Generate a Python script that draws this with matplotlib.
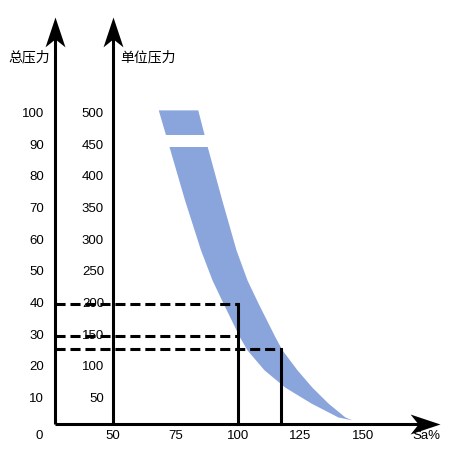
import matplotlib
matplotlib.use('Agg')
import matplotlib.pyplot as plt
import numpy as np
from matplotlib.path import Path

plt.rcParams['font.family'] = ['Liberation Sans', 'Noto Sans CJK SC']

# left scale (total pressure) and the matching unit-pressure scale
total_ticks = [10, 20, 30, 40, 50, 60, 70, 80, 90, 100]
unit_ticks = [50, 100, 150, 200, 250, 300, 350, 400, 450, 500]
sa_ticks = [50, 75, 100, 125, 150]

# band: total pressure vs left / right edge of Sa%
band_t = [101.3, 89.7, 72.9, 57.1, 47.6, 40.3, 29.6, 25.5, 19.2, 13.7, 8.7, 4.3, 3.4]
band_left = [68.1, 72.4, 78.6, 85.0, 89.6, 94.0, 100.6, 103.6, 110.4, 118.8, 129.2, 140.0, 145.6]
band_right = [83.9, 87.7, 93.5, 99.2, 103.6, 108.0, 114.8, 117.6, 123.6, 129.6, 136.0, 142.8, 145.6]
gap_t = [89.7, 93.4]

# working points: (Sa%, total pressure)
dashed_t = [40, 30, 25.8]
dashed_sa = [100, 100, 117.2]
solid_sa = [100, 117.2]
solid_t = [40, 25.8]

# layout
x_left = 26.8      # total pressure axis
x_unit = 50        # unit pressure axis
y_base = 2.1       # Sa% axis
y_tip = 130.6
x_tip = 180.8
band_color = '#8aa5dc'
lw = 2.2

fig = plt.figure(figsize=(4.68, 4.74), dpi=100)
ax = fig.add_axes([0, 0, 1, 1])
ax.set_xlim(4.8, 192)
ax.set_ylim(-13.7, 136)
ax.axis('off')

# band
ax.fill_betweenx(band_t, band_left, band_right, color=band_color, lw=0, zorder=1)
ax.fill_betweenx(gap_t, 60, 95, color='white', lw=0, zorder=1.5)

# arrow heads with a notched back
up_head = Path([(0, 0), (0.5, -1.5), (0, -1.1), (-0.5, -1.5), (0, 0)],
               [Path.MOVETO, Path.LINETO, Path.LINETO, Path.LINETO, Path.CLOSEPOLY])
right_head = Path([(0, 0), (-1.5, 0.5), (-1.1, 0), (-1.5, -0.5), (0, 0)],
                  [Path.MOVETO, Path.LINETO, Path.LINETO, Path.LINETO, Path.CLOSEPOLY])

for x in (x_left, x_unit):
    ax.plot([x, x], [y_base, y_tip - 5], color='black', lw=lw, zorder=3,
            solid_capstyle='butt')
    ax.plot([x], [y_tip], marker=up_head, ms=43, color='black', mew=0, zorder=4)
ax.plot([x_left, x_tip - 5], [y_base, y_base], color='black', lw=lw, zorder=3,
        solid_capstyle='butt')
ax.plot([x_tip], [y_base], marker=right_head, ms=43, color='black', mew=0, zorder=4)

# dashed reading lines and solid drops
for t, sa in zip(dashed_t, dashed_sa):
    ax.plot([x_left, sa], [t, t], color='black', lw=lw, dashes=(3.3, 1.6), zorder=3)
for sa, t in zip(solid_sa, solid_t):
    ax.plot([sa, sa], [y_base, t], color='black', lw=lw, zorder=3,
            solid_capstyle='projecting')

# tick labels
fs = 9.5
for t, u in zip(total_ticks, unit_ticks):
    ax.text(22.4, t, str(t), ha='right', va='center', fontsize=fs, zorder=2)
    ax.text(46.4, t, str(u), ha='right', va='center', fontsize=fs, zorder=2)
ax.text(20.4, -1.7, '0', ha='center', va='center', fontsize=fs)
for s in sa_ticks:
    ax.text(s, -1.7, str(s), ha='center', va='center', fontsize=fs)
ax.text(175.2, -1.7, 'Sa%', ha='center', va='center', fontsize=fs)

ax.text(24.8, 118, '总压力', ha='right', va='center', fontsize=10)
ax.text(52.8, 118, '单位压力', ha='left', va='center', fontsize=10)

fig.savefig('out.png', dpi=100)
